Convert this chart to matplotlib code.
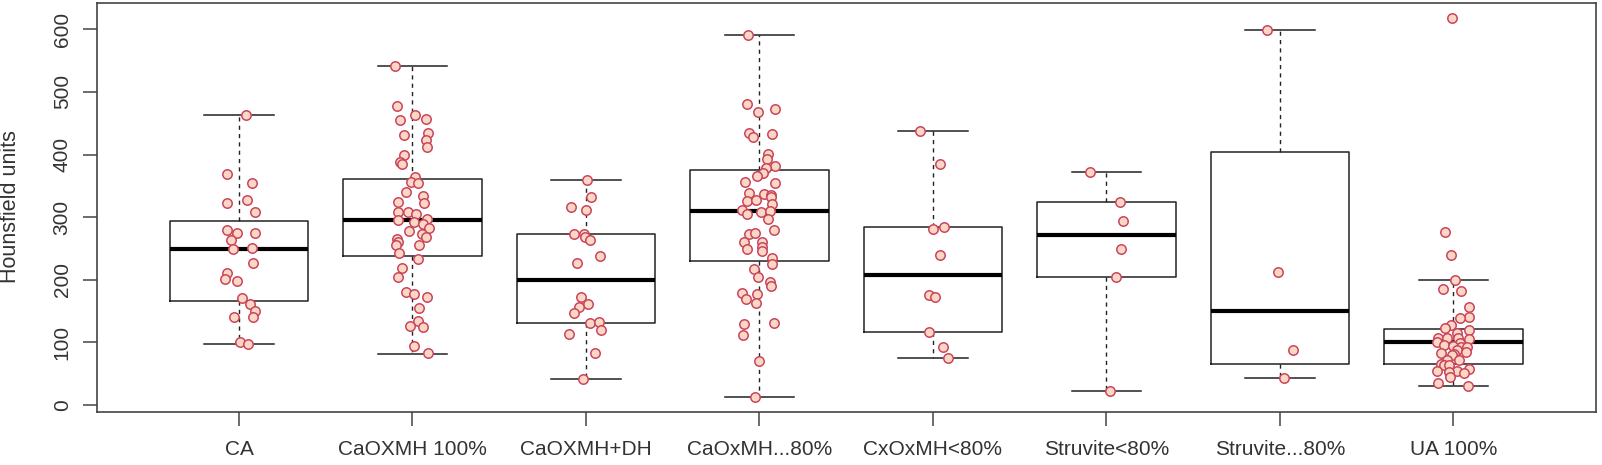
import numpy as np
import matplotlib
matplotlib.use("Agg")
import matplotlib.pyplot as plt

plt.rcParams['font.family'] = ['Liberation Sans', 'DejaVu Sans']

groups = ['CA', 'CaOXMH 100%', 'CaOXMH+DH', 'CaOxMH...80%',
          'CxOxMH<80%', 'Struvite<80%', 'Struvite...80%', 'UA 100%']

# box statistics (Tukey hinges, as in R)
whislo = [97, 81.4, 42, 13, 75, 21.8, 42.6, 30.3]
q1 = [166.6, 237.9, 131.5, 229.5, 116.6, 203.9, 65, 65.5]
med = [249, 295.4, 199.6, 309.3, 207.6, 272, 150.1, 100.1]
q3 = [293.8, 360.4, 273.6, 375.3, 284.3, 324.7, 404.5, 121.4]
whishi = [463, 541.9, 358.8, 591.4, 437.6, 372.1, 599.4, 200.1]

# individual stones (HU) and their horizontal jitter (category units)
ca_hu = [463, 368.5, 354.5, 322.6, 327.4, 308.2, 279.5, 275.2, 274.2, 263.5, 248.6, 250.7,
         226.3, 211.3, 201.8, 198.1, 170.9, 161.3, 149.6, 141, 141, 100.1, 96.9]
ca_jit = [0.042, -0.067, 0.075, -0.067, 0.046, 0.090, -0.069, -0.013, 0.094, -0.048, -0.035, 0.075,
          0.083, -0.071, -0.079, -0.010, 0.019, 0.065, 0.094, 0.081, -0.031, 0.008, 0.050]

mh100_hu = [542, 477.5, 455, 462.5, 457, 434.8, 431, 423, 412.5, 398.8, 387.6, 384.4,
            363.5, 356.6, 355, 340.7, 333.8, 322, 324.7, 307.7, 308.7, 304.4, 295.4, 292.7,
            296.9, 288.9, 282.5, 277.2, 273.1, 269, 264.7, 260.9, 255.5, 255.5, 243.3, 233.2,
            218.3, 205, 180, 177.3, 173, 154.4, 134.6, 126.2, 124, 94.6, 82.3]
mh100_jit = [-0.100, -0.090, -0.070, 0.015, 0.080, 0.090, -0.050, 0.080, 0.085, -0.050, -0.070, -0.060,
             0.015, -0.010, 0.033, -0.038, 0.058, 0.067, -0.083, -0.086, -0.025, 0.019, -0.086, 0.010,
             0.081, 0.058, 0.096, -0.019, 0.054, 0.077, -0.090, -0.083, -0.096, 0.038, -0.077, 0.033,
             -0.058, -0.086, -0.038, 0.010, 0.083, 0.038, 0.033, -0.013, 0.061, 0.010, 0.090]

mhdh_hu = [358.8, 332.2, 315.7, 310.9, 273.6, 273.6, 268.3, 263, 237.3, 226.3,
           173, 161.3, 157, 146.4, 131, 132.5, 119.2, 113.9, 83.5, 42]
mhdh_jit = [0.004, 0.029, -0.086, 0.002, -0.067, -0.012, -0.004, 0.021, 0.081, -0.050,
            -0.031, 0.012, -0.038, -0.069, 0.021, 0.077, 0.088, -0.100, 0.054, -0.019]

mh80_hu = [591.4, 480.7, 467.4, 472.7, 434.9, 428.5, 432.2, 400.3, 392.3, 382.2, 378, 370,
           365.7, 356.6, 355, 339, 337, 335.4, 326.4, 327.4, 331.6, 321.5, 311.4, 305,
           308.7, 310.3, 296.9, 278.7, 272.6, 275.2, 260.9, 260.9, 252.9, 248.6, 245.9, 234.2,
           225.1, 216.6, 205, 197, 190, 179.3, 177.3, 168.8, 163.5, 129.4, 131.5, 111.8, 70.7, 13]
mh80_jit = [-0.065, -0.069, -0.008, 0.088, -0.060, -0.040, 0.071, 0.050, 0.042, 0.090, 0.036, 0.021,
            -0.012, -0.083, 0.090, -0.060, 0.027, 0.065, -0.069, -0.021, 0.065, 0.075, -0.100, -0.069,
            0.008, 0.060, 0.052, 0.084, -0.063, -0.027, -0.088, 0.013, 0.017, -0.069, 0.013, 0.075,
            0.075, -0.031, -0.006, 0.058, 0.069, -0.098, -0.017, -0.079, -0.021, -0.088, 0.084, -0.094,
            -0.002, -0.025]

cx80_hu = [437.6, 385.4, 281.6, 284.3, 239, 176.2, 172, 116.6, 93.2, 75.6]
cx80_jit = [-0.075, 0.038, -0.002, 0.061, 0.040, -0.025, 0.013, -0.025, 0.058, 0.084]

str80_hu = [372.1, 324.7, 294.3, 249.6, 203.9, 21.8]
str80_jit = [-0.096, 0.079, 0.096, 0.083, 0.054, 0.019]

strdot_hu = [599.4, 211.9, 88.3, 42.6]
strdot_jit = [-0.077, -0.012, 0.073, 0.025]

ua_hu = [617.5, 276.8, 239.5, 199.6, 184.7, 182, 157, 141, 138.4, 127.8, 122.5, 119.8,
         114.5, 107, 107, 106.5, 104.9, 101.1, 98.5, 95.8, 95, 93, 92, 87.8,
         85.1, 82.6, 81, 79.8, 72, 71.9, 65, 64, 63.9, 57, 54.3, 54.3,
         53, 51.6, 45.2, 34.6, 30.3]
ua_jit = [-0.010, -0.050, -0.015, 0.008, -0.063, 0.042, 0.092, 0.092, 0.035, -0.012, -0.050, 0.092,
          0.023, -0.088, -0.035, 0.027, 0.092, -0.092, 0.036, -0.053, -0.005, 0.042, 0.080, 0.023,
          0.071, -0.073, 0.004, -0.006, -0.035, 0.033, -0.073, -0.054, -0.025, 0.092, -0.092, 0.023,
          -0.025, 0.061, -0.019, -0.088, 0.084]

all_hu = [ca_hu, mh100_hu, mhdh_hu, mh80_hu, cx80_hu, str80_hu, strdot_hu, ua_hu]
all_jit = [ca_jit, mh100_jit, mhdh_jit, mh80_jit, cx80_jit, str80_jit, strdot_jit, ua_jit]

W, H = 1602, 465
fig = plt.figure(figsize=(W / 100, H / 100), dpi=100)
ax = fig.add_axes([96.7 / W, (H - 412) / H, (1595.7 - 96.7) / W, (412 - 3.3) / H])

stats = []
for i in range(len(groups)):
    stats.append(dict(label=groups[i], whislo=whislo[i], q1=q1[i], med=med[i],
                      q3=q3[i], whishi=whishi[i], fliers=[]))

ax.bxp(stats, positions=range(1, len(groups) + 1), widths=0.8, showfliers=False,
       boxprops=dict(color='#222222', linewidth=1.1),
       medianprops=dict(color='black', linewidth=3.0, solid_capstyle='butt'),
       whiskerprops=dict(color='#222222', linewidth=1.0, linestyle=(0, (3, 3))),
       capprops=dict(color='#222222', linewidth=1.1), capwidths=0.4)

# jittered points on top of the boxes
for i, (hu, jit) in enumerate(zip(all_hu, all_jit)):
    xs = (i + 1) + np.array(jit)
    ax.scatter(xs, hu, s=46, facecolor='#FCD8C4', edgecolor='#C8465F',
               linewidth=1.1, zorder=3)

ax.set_xlim(0.18, 8.82)
ax.set_ylim(-11.2, 641.5)
ax.set_yticks(range(0, 601, 100))
ax.set_xticks(range(1, len(groups) + 1))
ax.set_xticklabels(groups)

for sp in ax.spines.values():
    sp.set_color('#444444')
    sp.set_linewidth(1.2)
ax.tick_params(axis='both', length=10, width=1.1, color='#444444',
               labelcolor='#333333', labelsize=15)
ax.tick_params(axis='x', pad=10.5)
ax.tick_params(axis='y', pad=8)
for lab in ax.get_yticklabels():
    lab.set_rotation(90)
    lab.set_va('center')

# y label sits right at the left edge, as in the original
fig.text(0.0, 0.555, 'Hounsfield units', rotation=90, ha='left', va='center',
         fontsize=15.5, color='#333333')

fig.savefig('out.png', dpi=100)
